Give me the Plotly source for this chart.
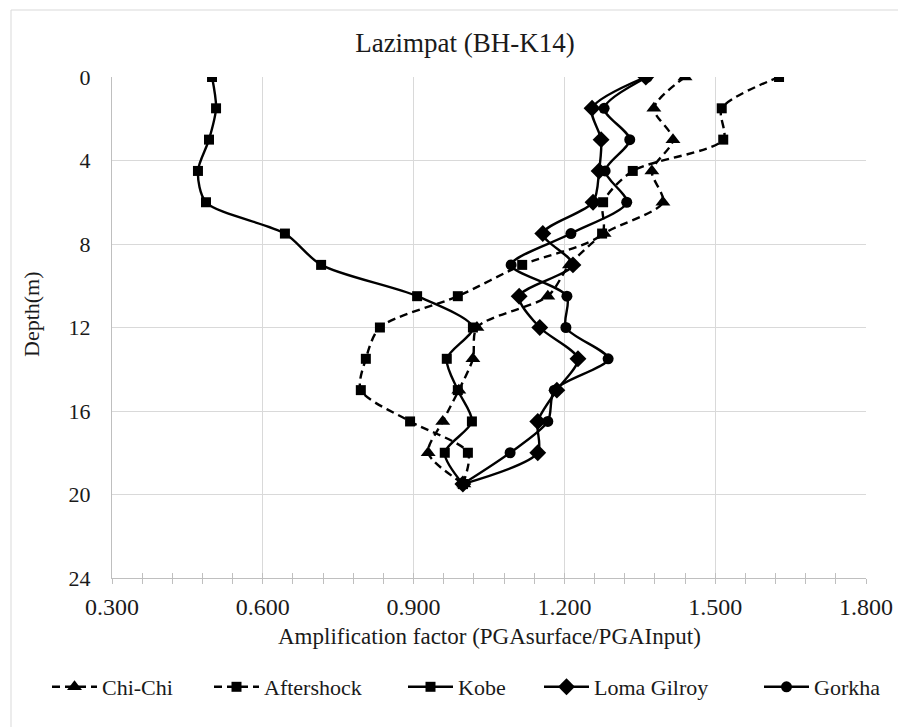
import plotly.graph_objects as go

depth = [0, 1.5, 3, 4.5, 6, 7.5, 9, 10.5, 12, 13.5, 15, 16.5, 18, 19.5]
chichi = [1.44, 1.378, 1.416, 1.374, 1.396, 1.279, 1.21, 1.167, 1.026, 1.018, 0.99, 0.958, 0.929, 1.0]
aftershock = [1.627, 1.513, 1.516, 1.336, 1.277, 1.275, 1.116, 0.988, 0.833, 0.805, 0.795, 0.893, 1.008, 0.998]
kobe = [0.499, 0.507, 0.493, 0.471, 0.487, 0.644, 0.716, 0.907, 1.018, 0.966, 0.988, 1.016, 0.962, 0.998]
loma = [1.362, 1.255, 1.273, 1.269, 1.257, 1.157, 1.217, 1.110, 1.151, 1.227, 1.185, 1.147, 1.147, 0.998]
gorkha = [1.365, 1.279, 1.330, 1.281, 1.324, 1.213, 1.094, 1.205, 1.203, 1.287, 1.18, 1.167, 1.092, 0.998]

x_ticks = [0.3, 0.6, 0.9, 1.2, 1.5, 1.8]
y_ticks = [0, 4, 8, 12, 16, 20, 24]

FONT = "Liberation Serif, Times New Roman, serif"
TXT = "#1a1a1a"

# plot area in pixels: x 112..866, y 77..578
L, R, T, B = 112, 866, 77, 578
PW, PH = R - L, B - T

def px_x(p):
    return (p - L) / PW

def px_y(p):
    return (B - p) / PH

series = [
    ("Chi-Chi", chichi, "triangle-up", "8px,5px", 13),
    ("Aftershock", aftershock, "square", "8px,5px", 10),
    ("Kobe", kobe, "square", "solid", 10),
    ("Loma Gilroy", loma, "diamond", "solid", 13),
    ("Gorkha", gorkha, "circle", "solid", 11),
]
legend_ids = ["legend", "legend2", "legend3", "legend4", "legend5"]
legend_left_px = [47, 209, 403, 539, 759]

fig = go.Figure()
for (name, vals, sym, dash, msize), lid in zip(series, legend_ids):
    fig.add_trace(go.Scatter(
        x=vals, y=depth, name=name, mode="lines+markers", legend=lid,
        line=dict(color="black", width=2.4, dash=dash, shape="spline", smoothing=0.8),
        marker=dict(symbol=sym, size=msize, color="black"),
    ))

grid = "#d9d9d9"
axc = "#bfbfbf"
layout_legends = {}
for lid, lx in zip(legend_ids, legend_left_px):
    layout_legends[lid] = dict(orientation="h", x=px_x(lx), xanchor="left",
                               y=px_y(687), yanchor="middle", itemwidth=45,
                               font=dict(size=22, family=FONT, color=TXT),
                               bgcolor="rgba(0,0,0,0)")

fig.update_layout(
    width=898, height=727,
    margin=dict(l=L, r=898 - R, t=T, b=727 - B, autoexpand=False),
    paper_bgcolor="white", plot_bgcolor="white",
    font=dict(family=FONT, color=TXT, size=20),
    title=dict(text="Lazimpat (BH-K14)", x=px_x(465), xref="paper", xanchor="center",
               y=1 - 43 / 727, yanchor="middle", font=dict(size=27, family=FONT, color=TXT)),
    showlegend=True,
    xaxis=dict(range=[0.3, 1.8], tickvals=x_ticks, ticktext=[f"{v:.3f}" for v in x_ticks],
               showgrid=True, gridcolor=grid, gridwidth=1,
               showline=True, linecolor=axc, linewidth=1, zeroline=False,
               ticks="outside", ticklen=5, tickcolor=axc,
               minor=dict(dtick=0.06, ticks="outside", ticklen=5, tickcolor=axc, showgrid=False),
               ticklabelstandoff=2,
               tickfont=dict(size=24, family=FONT, color=TXT)),
    xaxis2=dict(range=[0.3, 1.8], overlaying="x", side="bottom", anchor="y",
                tickvals=x_ticks, showticklabels=False, showgrid=False, zeroline=False,
                ticks="inside", ticklen=5, tickcolor=axc,
                minor=dict(dtick=0.06, ticks="inside", ticklen=5, tickcolor=axc, showgrid=False)),
    yaxis=dict(range=[24, 0], tickvals=y_ticks, showgrid=True, gridcolor=grid, gridwidth=1,
               showline=True, linecolor=axc, linewidth=1, zeroline=False,
               ticks="outside", ticklen=16, tickcolor="rgba(0,0,0,0)",
               tickfont=dict(size=22, family=FONT, color=TXT)),
    annotations=[
        dict(text="Amplification factor (PGAsurface/PGAInput)", xref="paper", yref="paper",
             x=px_x(489), y=px_y(636), xanchor="center", yanchor="middle", showarrow=False,
             font=dict(size=23, family=FONT, color=TXT)),
        dict(text="Depth(m)", xref="paper", yref="paper", textangle=-90,
             x=px_x(31), y=px_y(314), xanchor="center", yanchor="middle", showarrow=False,
             font=dict(size=22, family=FONT, color=TXT)),
    ],
    shapes=[dict(type="rect", xref="paper", yref="paper",
                 x0=px_x(11), x1=2.0, y0=-1.0, y1=px_y(10),
                 line=dict(color="#d9d9d9", width=1), layer="below")],
    **layout_legends,
)
# empty trace on the overlay axis so its inside ticks are drawn
fig.add_trace(go.Scatter(x=[None], y=[None], xaxis="x2", yaxis="y", showlegend=False, hoverinfo="skip"))
fig.write_html("out.html")
